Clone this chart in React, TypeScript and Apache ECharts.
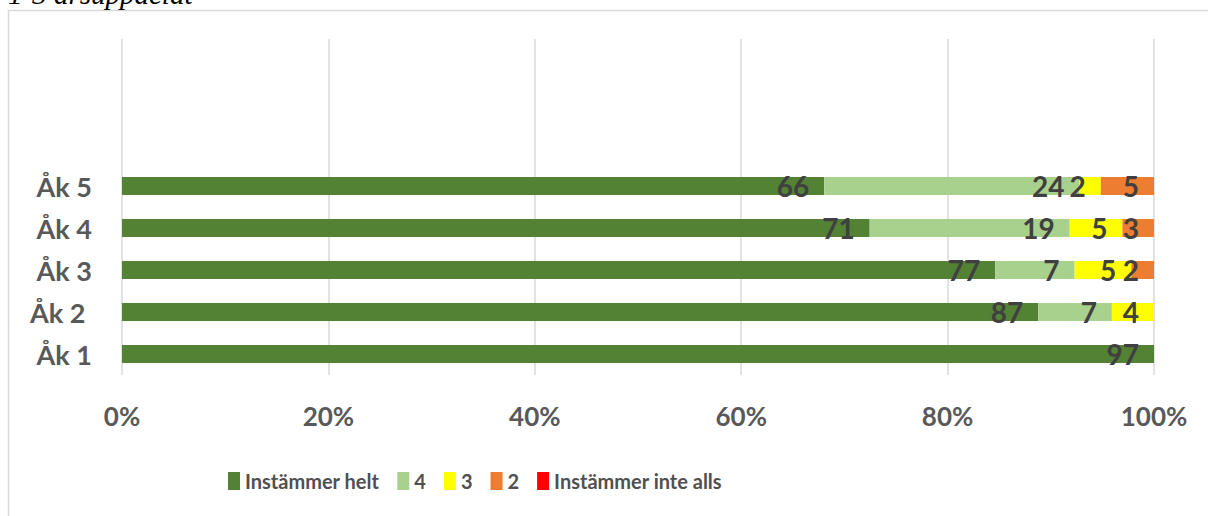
import React, { useEffect, useRef } from "react";
import * as echarts from "echarts";

const categories = ["Åk 1", "Åk 2 ", "Åk 3", "Åk 4", "Åk 5", "", "", ""];
const seriesNames = ["Instämmer helt", "4", "3", "2", "Instämmer inte alls"];
const colors = ["#548235", "#A9D18E", "#FFFF00", "#ED7D31", "#FF0000"];
// raw answer counts per category (Åk 1..Åk 5)
const helt = [97, 87, 77, 71, 66];
const fyra = [null, 7, 7, 19, 24];
const tre = [null, 4, 5, 5, 2];
const tva = [null, null, 2, 3, 5];
const inteAlls = [null, null, null, null, null];
const xTicks = [0, 20, 40, 60, 80, 100];
const titleText = "1-3 årsuppdelat";

const rawSeries = [helt, fyra, tre, tva, inteAlls];

export default function App() {
  const ref = useRef<HTMLDivElement>(null);
  useEffect(() => {
    if (!ref.current) return;
    const chart = echarts.init(ref.current, undefined, { renderer: "svg" });
    const totals = helt.map((_, i) =>
      rawSeries.reduce((s, arr) => s + (arr[i] ?? 0), 0)
    );
    const series = rawSeries.map((arr, si) => ({
      name: seriesNames[si],
      type: "bar",
      stack: "total",
      barWidth: 18,
      itemStyle: { color: colors[si] },
      label: {
        show: true,
        position: "insideRight",
        distance: 15,
        color: "#404040",
        fontFamily: "Lato",
        fontWeight: "bold",
        fontSize: 28,
        formatter: (p: any) => (arr[p.dataIndex] == null ? "" : String(arr[p.dataIndex])),
      },
      data: categories.map((_, i) =>
        i < arr.length && arr[i] != null ? ((arr[i] as number) / totals[i]) * 100 : null
      ),
    }));
    chart.setOption({
      animation: false,
      grid: { left: 122, right: 54, top: 39, bottom: 141, containLabel: false },
      legend: {
        left: 223,
        top: 466,
        itemWidth: 12,
        itemHeight: 18,
        itemGap: 18,
        icon: "rect",
        data: seriesNames,
        textStyle: {
          color: "#505050",
          fontFamily: "Lato",
          fontWeight: "bold",
          fontSize: 20,
        },
      },
      xAxis: {
        type: "value",
        min: xTicks[0],
        max: xTicks[xTicks.length - 1],
        interval: 20,
        axisLine: { show: false },
        axisTick: { show: false },
        splitLine: { lineStyle: { color: "#d9d9d9", width: 1.5 } },
        axisLabel: {
          formatter: "{value}%",
          margin: 28,
          color: "#595959",
          fontFamily: "Lato",
          fontWeight: "bold",
          fontSize: 26,
        },
      },
      yAxis: {
        type: "category",
        data: categories,
        axisLine: { show: false },
        axisTick: { show: false },
        axisLabel: {
          margin: 30,
          color: "#595959",
          fontFamily: "Lato",
          fontWeight: "bold",
          fontSize: 27,
        },
      },
      graphic: [
        {
          type: "rect",
          shape: { x: 8.5, y: 10.5, width: 1400, height: 700 },
          style: { fill: "none", stroke: "#d9d9d9", lineWidth: 1.5 },
          silent: true,
        },
        {
          type: "text",
          x: 8,
          y: 8,
          style: {
            text: titleText,
            font: "italic 29px 'Liberation Serif'",
            fill: "#000000",
            verticalAlign: "bottom",
          },
        },
      ],
      series,
    });
    return () => chart.dispose();
  }, []);
  return (
    <div
      ref={ref}
      style={{ position: "absolute", left: 0, top: 0, width: 1208, height: 516 }}
    />
  );
}
